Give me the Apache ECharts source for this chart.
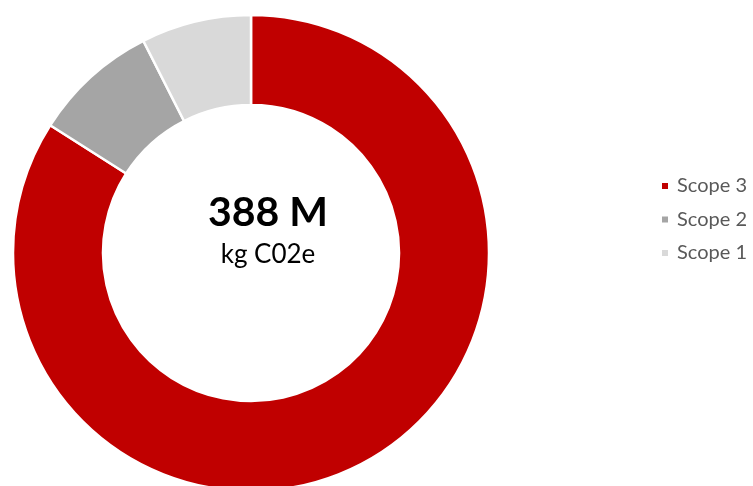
<!DOCTYPE html>
<html>
<head>
<meta charset="utf-8">
<script src="https://cdn.jsdelivr.net/npm/echarts@6/dist/echarts.min.js"></script>
<style>html,body{margin:0;padding:0;background:#fff}#c{width:753px;height:486px}</style>
</head>
<body>
<div id="c"></div>
<script>
const categories = ['Scope 3', 'Scope 2', 'Scope 1'];
const values = [326, 33, 29];
const colors = ['#C00000', '#A5A5A5', '#D9D9D9'];
const centerTitle = '388 M';
const centerSubtitle = 'kg C02e';

const chart = echarts.init(document.getElementById('c'));
chart.setOption({
  animation: false,
  color: colors,
  legend: {
    orient: 'vertical',
    left: 660,
    top: 175,
    padding: 0,
    itemWidth: 8,
    itemHeight: 8,
    itemGap: 11.5,
    icon: 'rect',
    data: categories,
    textStyle: { fontFamily: 'Lato', fontSize: 20, color: '#595959', lineHeight: 22, padding: [0, 0, 0, 3] }
  },
  series: [{
    type: 'pie',
    center: [251, 253],
    radius: [148, 238],
    startAngle: 90,
    clockwise: true,
    label: { show: false },
    labelLine: { show: false },
    emphasis: { disabled: true },
    itemStyle: { borderColor: '#fff', borderWidth: 2.5 },
    data: categories.map((c, i) => ({ name: c, value: values[i] }))
  }],
  graphic: [
    { type: 'text', id: 't1', x: 268, y: 213, z: 10,
      style: { text: centerTitle, align: 'center', verticalAlign: 'middle', fontFamily: 'Lato', fontWeight: 'bold', fontSize: 41, fill: '#000' } },
    { type: 'text', id: 't2', x: 268, y: 255, z: 10,
      style: { text: centerSubtitle, align: 'center', verticalAlign: 'middle', fontFamily: 'Lato', fontSize: 26, fill: '#000' } }
  ]
});
</script>
</body>
</html>
